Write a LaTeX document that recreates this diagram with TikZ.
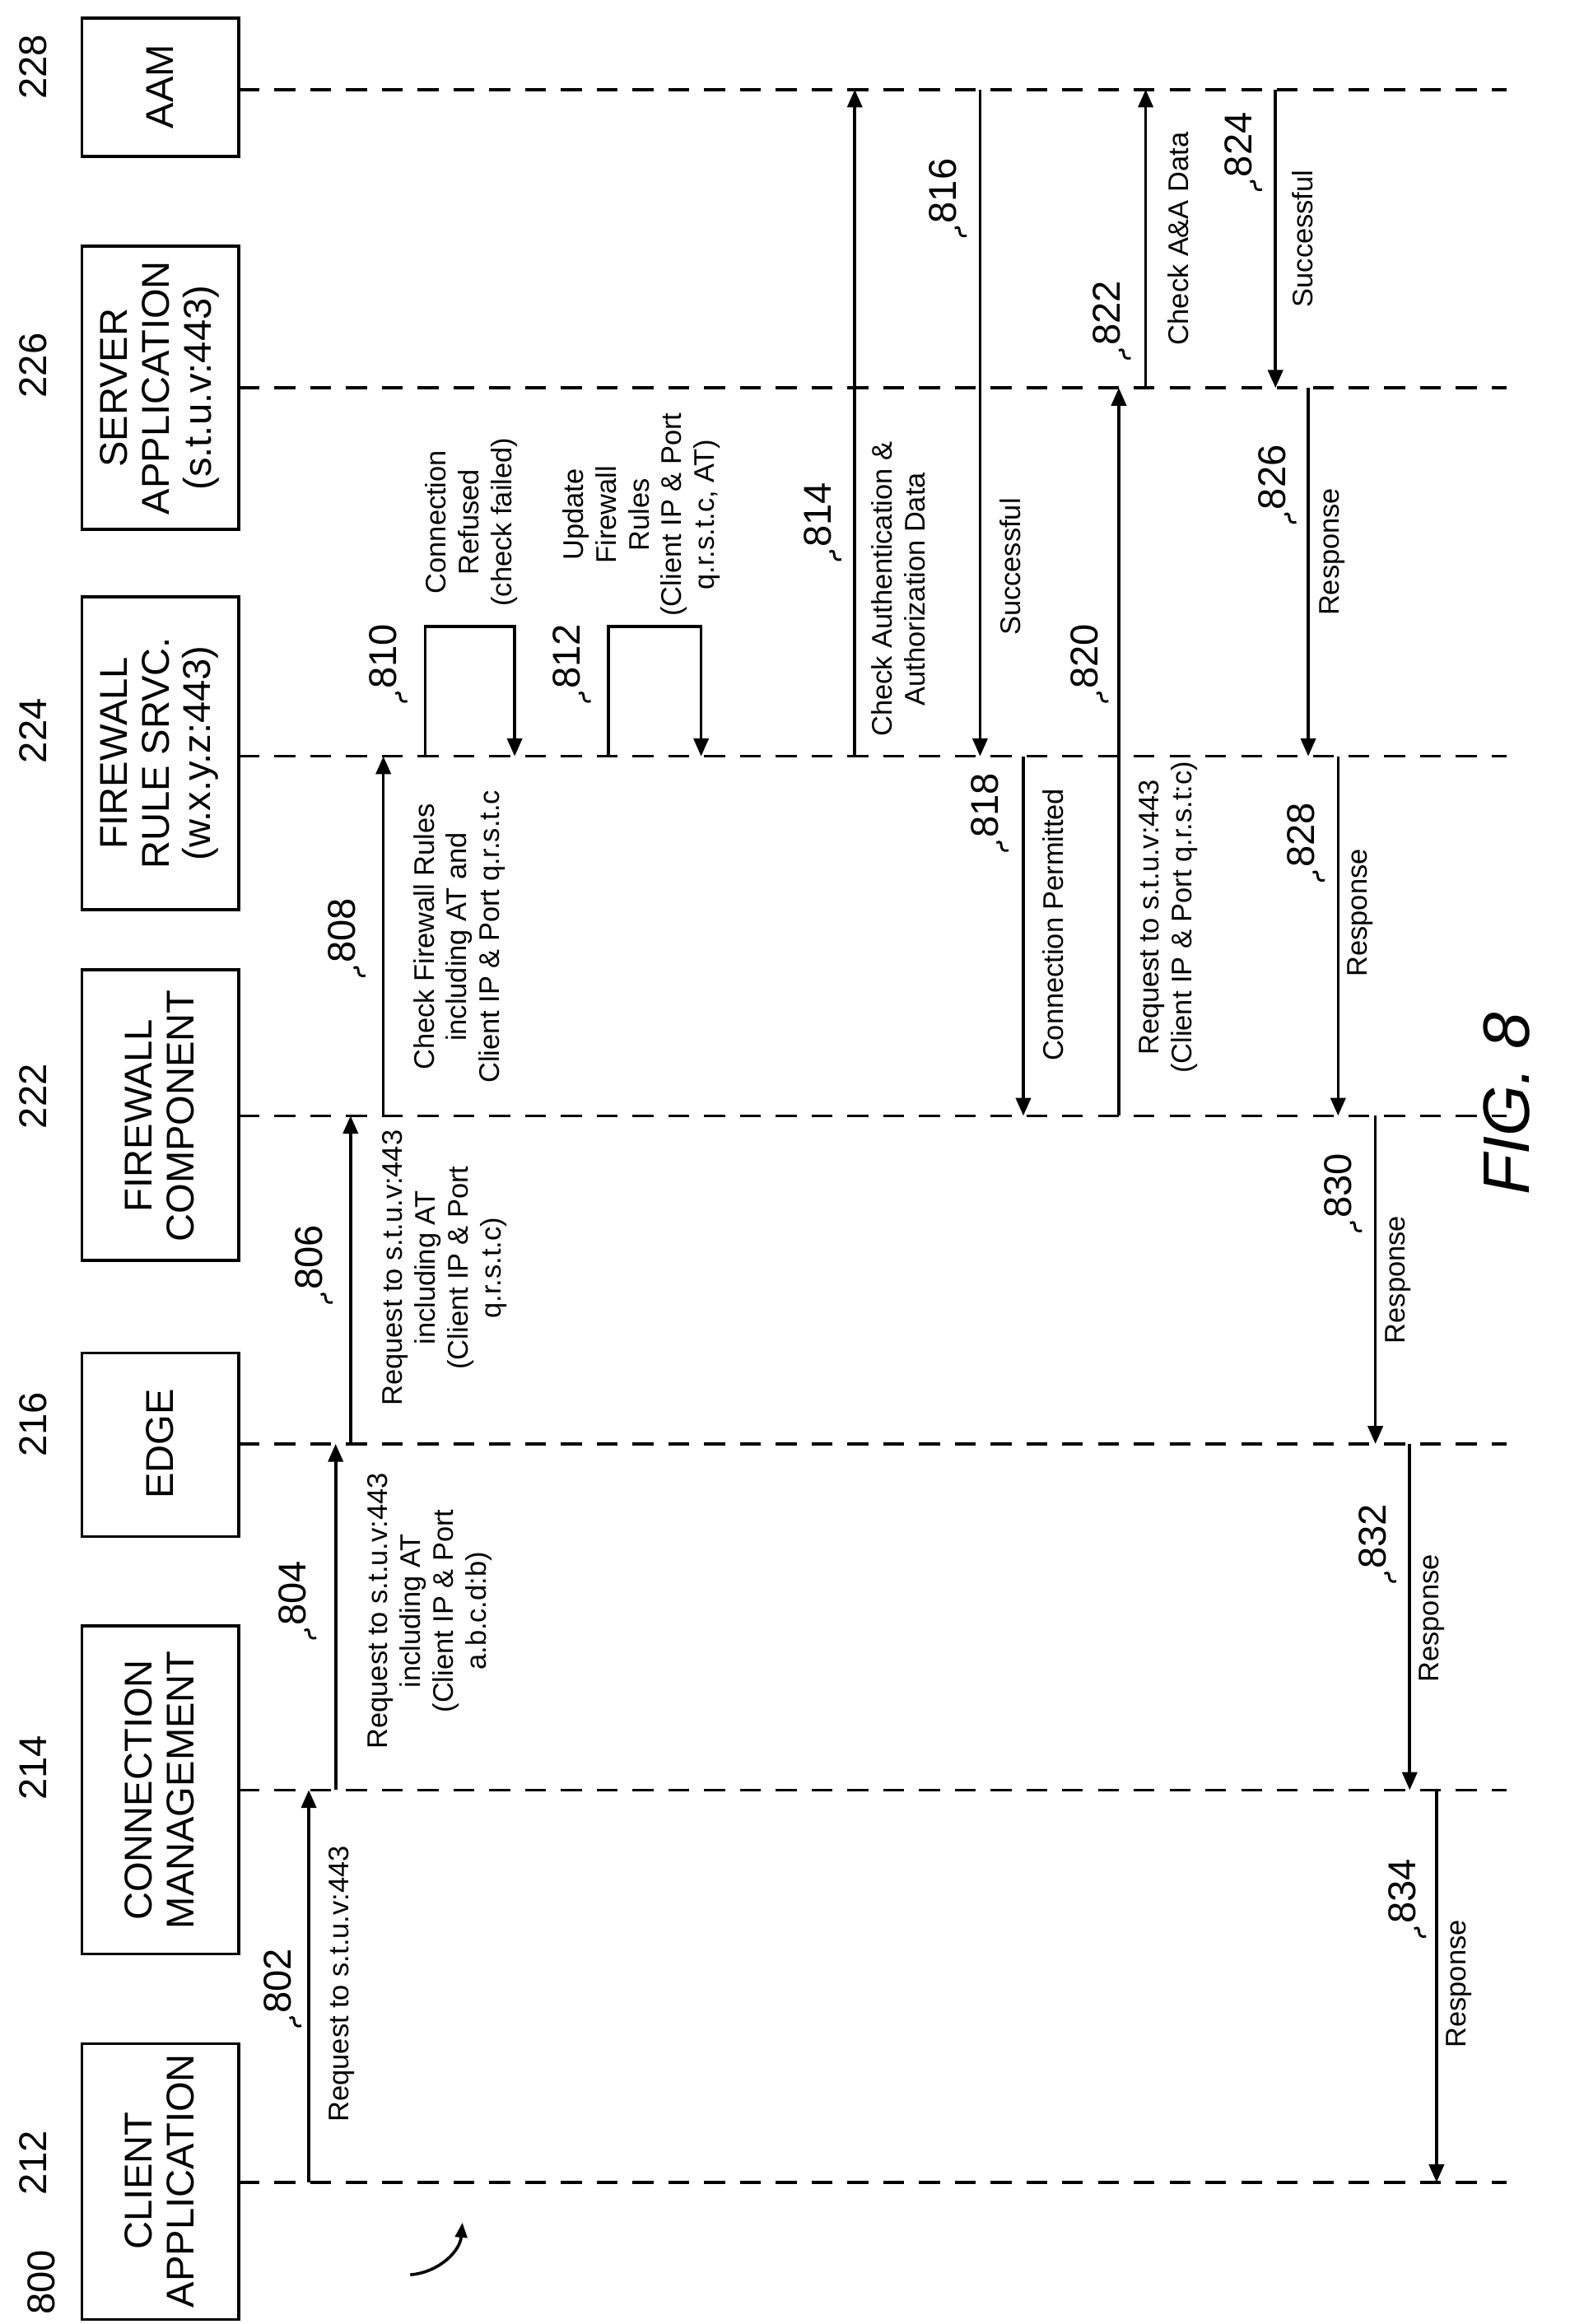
\documentclass[tikz,border=0pt]{standalone}
\usepackage{fontspec}
\setmainfont{Liberation Sans}
\usetikzlibrary{arrows.meta}
\begin{document}
\begin{tikzpicture}[x=0.5pt,y=-0.5pt,
 life/.style={line width=1pt,dash pattern=on 7pt off 5pt},
 box/.style={draw,line width=1pt},
 bt/.style={rotate=90,align=center,font=\fontsize{13}{14}\selectfont},
 lb/.style={rotate=90,align=center,font=\fontsize{9.5}{11}\selectfont},
 rf/.style={rotate=90,font=\fontsize{13}{14}\selectfont},
 msg/.style={line width=1pt,-{Triangle[length=6pt,width=5pt]}},
 sq/.style={line width=0.8pt}]
\useasboundingbox (0,0) rectangle (1052,1558);
% lifelines
\foreach \y/\n in {60/228,260/226,507/224,748/222,968/216,1200/214,1463/212}{
 \coordinate (L\n a) at (160,\y); \coordinate (L\n b) at (1010,\y);
 \draw[life] (L\n a) -- (L\n b);}
% boxes
\draw[box] (55,12) rectangle (160,105);
\draw[box] (55,165) rectangle (160,355);
\draw[box] (55,400) rectangle (160,610);
\draw[box] (55,650) rectangle (160,845);
\draw[box] (55,907) rectangle (160,1030);
\draw[box] (55,1090) rectangle (160,1310);
\draw[box] (55,1370) rectangle (160,1555);
\node[bt] (b228) at (107,58) {AAM};
\node[bt] (b226) at (107,260) {SERVER\\APPLICATION\\(s.t.u.v:443)};
\node[bt] (b224) at (107,505) {FIREWALL\\RULE SRVC.\\(w.x.y.z:443)};
\node[bt] (b222) at (107,748) {FIREWALL\\COMPONENT};
\node[bt] (b216) at (107,968) {EDGE};
\node[bt] (b214) at (107,1200) {CONNECTION\\MANAGEMENT};
\node[bt] (b212) at (107,1462) {CLIENT\\APPLICATION};
\foreach \y/\n in {45/228,245/226,490/224,735/222,955/216,1185/214,1450/212}
 \node[rf] (r\n) at (22,\y) {\n};
% messages
\newcommand{\refn}[3]{\node[rf] (n#3) at (#1,#2) {#3};
 \draw[sq] (#1+8,#2+25) .. controls (#1+14,#2+22) and (#1+8,#2+32) .. (#1+16,#2+30);}
\draw[msg] (207,1463) -- (207,1200);
\node[lb] at (229,1330) {Request to s.t.u.v:443};
\refn{186}{1328}{802}
\draw[msg] (225,1200) -- (225,968);
\node[lb] at (288,1080) {Request to s.t.u.v:443\\including AT\\(Client IP \& Port\\a.b.c.d:b)};
\refn{196}{1068}{804}
\draw[msg] (235,968) -- (235,748);
\node[lb] at (298,850) {Request to s.t.u.v:443\\including AT\\(Client IP \& Port\\q.r.s.t.c)};
\refn{207}{843}{806}
\draw[msg] (257,748) -- (257,507);
\node[lb] at (308,628) {Check Firewall Rules\\including AT and\\Client IP \& Port q.r.s.t.c};
\refn{229}{624}{808}
\draw[msg] (285,507) -- (285,420) -- (345,420) -- (345,507);
\node[lb] at (316,350) {Connection\\Refused\\(check failed)};
\refn{257}{440}{810}
\draw[msg] (408,507) -- (408,420) -- (470,420) -- (470,507);
\node[lb] at (430,345) {Update\\Firewall\\Rules\\(Client IP \& Port\\q.r.s.t.c, AT)};
\refn{380}{440}{812}
\draw[msg] (573,507) -- (573,60);
\node[lb] at (602,395) {Check Authentication \&\\Authorization Data};
\refn{548}{345}{814}
\draw[msg] (657,60) -- (657,507);
\node[lb] at (677,380) {Successful};
\refn{632}{128}{816}
\draw[msg] (686,507) -- (686,748);
\node[lb] at (706,620) {Connection Permitted};
\refn{660}{540}{818}
\draw[msg] (750,748) -- (750,260);
\node[lb] at (783,615) {Request to s.t.u.v:443\\(Client IP \& Port q.r.s.t:c)};
\refn{727}{440}{820}
\draw[msg] (768,260) -- (768,60);
\node[lb] at (790,160) {Check A\&A Data};
\refn{742}{210}{822}
\draw[msg] (855,60) -- (855,260);
\node[lb] at (873,160) {Successful};
\refn{830}{97}{824}
\draw[msg] (877,260) -- (877,507);
\node[lb] at (893,370) {Response};
\refn{853}{320}{826}
\draw[msg] (897,507) -- (897,748);
\node[lb] at (912,612) {Response};
\refn{872}{560}{828}
\draw[msg] (922,748) -- (922,968);
\node[lb] at (937,858) {Response};
\refn{897}{795}{830}
\draw[msg] (945,968) -- (945,1200);
\node[lb] at (960,1085) {Response};
\refn{920}{1030}{832}
\draw[msg] (963,1200) -- (963,1463);
\node[lb] at (978,1330) {Response};
\refn{940}{1268}{834}
\node[rotate=90,font=\fontsize{22}{24}\selectfont\itshape] (fig) at (1010,740) {FIG. 8};
\node[rf] (n800) at (28,1530) {800};
\coordinate (a800) at (310,1490);
\draw[line width=1pt,-{Triangle[length=5pt,width=4pt]}] (275,1525) to[bend right=40] (a800);
\end{tikzpicture}
\end{document}
